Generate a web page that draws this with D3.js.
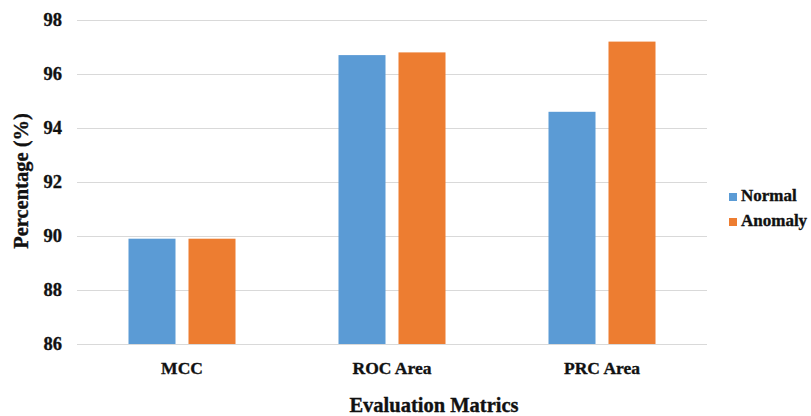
<!DOCTYPE html>
<html>
<head>
<meta charset="utf-8">
<script src="https://cdn.jsdelivr.net/npm/d3@7"></script>
<style>
  html, body { margin: 0; padding: 0; background: #fff; }
  svg { display: block; }
  text { font-family: "Liberation Serif", "Times New Roman", serif; font-weight: bold; fill: #111; stroke: #111; stroke-width: 0.35px; }
</style>
</head>
<body>
<svg id="chart" width="811" height="416"></svg>
<script>
// Evaluation metrics per class
const categories = ["MCC", "ROC Area", "PRC Area"];
const seriesNames = ["Normal", "Anomaly"];
const normalValues = [89.9, 96.7, 94.6];
const anomalyValues = [89.9, 96.8, 97.2];
const yTicks = [86, 88, 90, 92, 94, 96, 98];
const colors = ["#5b9bd5", "#ed7d31"];

const svg = d3.select("#chart");

const plot = { left: 77, right: 707, top: 20, bottom: 344 };

const x = d3.scaleBand()
  .domain(categories)
  .range([plot.left, plot.right])
  .padding(0);

const groupWidth = 107;
const xInner = d3.scaleBand()
  .domain(seriesNames)
  .range([(x.bandwidth() - groupWidth) / 2, (x.bandwidth() + groupWidth) / 2])
  .paddingInner(13 / 60);

const y = d3.scaleLinear()
  .domain([86, 98])
  .range([plot.bottom, plot.top]);

// Horizontal gridlines with value labels
const yAxis = d3.axisLeft(y)
  .tickValues(yTicks)
  .tickSize(-(plot.right - plot.left))
  .tickPadding(15)
  .tickFormat(d3.format("d"));

const gy = svg.append("g")
  .attr("transform", `translate(${plot.left},0)`)
  .call(yAxis);
gy.select(".domain").remove();
gy.selectAll(".tick line").attr("stroke", "#d9d9d9").attr("stroke-width", 1);
gy.selectAll(".tick text")
  .attr("font-size", 18.5)
  .attr("fill", "#111")
  .style("font-family", "'Liberation Serif', serif")
  .style("font-weight", "bold");

// Bars
const rows = categories.map((c, i) => ({
  category: c,
  values: [
    { series: "Normal", value: normalValues[i] },
    { series: "Anomaly", value: anomalyValues[i] }
  ]
}));

const groups = svg.append("g")
  .selectAll("g")
  .data(rows)
  .join("g")
  .attr("transform", d => `translate(${x(d.category)},0)`);

groups.selectAll("rect")
  .data(d => d.values)
  .join("rect")
  .attr("x", d => xInner(d.series))
  .attr("width", xInner.bandwidth())
  .attr("y", d => y(d.value))
  .attr("height", d => y(86) - y(d.value))
  .attr("fill", (d, i) => colors[i]);

// Category labels
const xAxis = d3.axisBottom(x).tickSize(0).tickPadding(18);
const gx = svg.append("g")
  .attr("transform", `translate(0,${plot.bottom})`)
  .call(xAxis);
gx.select(".domain").remove();
gx.selectAll(".tick text")
  .attr("font-size", 17.5)
  .attr("fill", "#111")
  .style("font-family", "'Liberation Serif', serif")
  .style("font-weight", "bold");

// Axis titles
svg.append("text")
  .attr("x", 434)
  .attr("y", 412)
  .attr("text-anchor", "middle")
  .attr("font-size", 20.5)
  .text("Evaluation Matrics");

svg.append("text")
  .attr("transform", "translate(28,181) rotate(-90)")
  .attr("text-anchor", "middle")
  .attr("font-size", 20.5)
  .text("Percentage (%)");

// Legend
const legend = svg.append("g")
  .selectAll("g")
  .data(seriesNames)
  .join("g")
  .attr("transform", (d, i) => `translate(729,${193 + i * 25})`);

legend.append("rect")
  .attr("width", 8)
  .attr("height", 8)
  .attr("fill", (d, i) => colors[i]);

legend.append("text")
  .attr("x", 12)
  .attr("y", 8)
  .attr("font-size", 17)
  .text(d => d);
</script>
</body>
</html>
